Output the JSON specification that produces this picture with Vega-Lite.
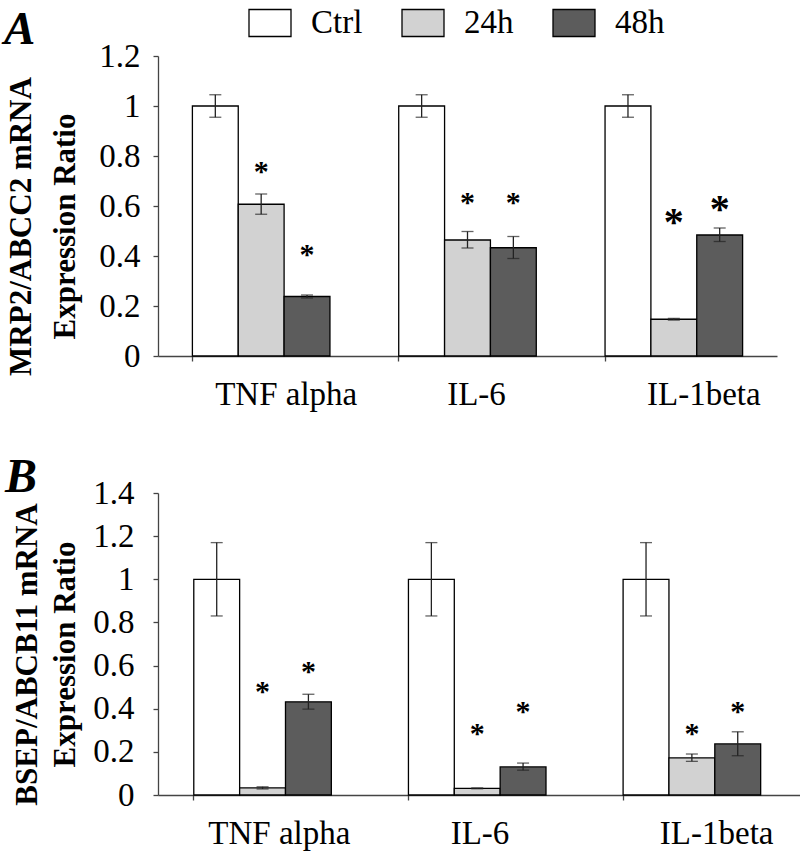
{
  "$schema": "https://vega.github.io/schema/vega-lite/v6.json",
  "padding": {"left": 4, "top": 1, "right": 3, "bottom": 5},
  "background": "white",
  "config": {
    "font": "Liberation Serif",
    "view": {"stroke": null},
    "axis": {
      "labelFont": "Liberation Serif",
      "titleFont": "Liberation Serif",
      "labelColor": "#000000",
      "titleColor": "#000000",
      "domainColor": "#444444",
      "tickColor": "#444444",
      "domainWidth": 1.3,
      "tickWidth": 1.3,
      "tickSize": 5,
      "grid": false,
      "labelFontSize": 33,
      "titleFontSize": 31,
      "titleFontWeight": "bold"
    }
  },
  "datasets": {
    "expr": [
      {"panel": "A", "cytokine": "TNF alpha", "group": "Ctrl", "value": 1.0, "lo": 0.955, "hi": 1.045, "star": null},
      {"panel": "A", "cytokine": "TNF alpha", "group": "24h", "value": 0.607, "lo": 0.567, "hi": 0.648, "star": 0.76},
      {"panel": "A", "cytokine": "TNF alpha", "group": "48h", "value": 0.238, "lo": 0.232, "hi": 0.244, "star": 0.43},
      {"panel": "A", "cytokine": "IL-6", "group": "Ctrl", "value": 1.0, "lo": 0.955, "hi": 1.045, "star": null},
      {"panel": "A", "cytokine": "IL-6", "group": "24h", "value": 0.464, "lo": 0.432, "hi": 0.498, "star": 0.635},
      {"panel": "A", "cytokine": "IL-6", "group": "48h", "value": 0.433, "lo": 0.39, "hi": 0.478, "star": 0.635},
      {"panel": "A", "cytokine": "IL-1beta", "group": "Ctrl", "value": 1.0, "lo": 0.955, "hi": 1.045, "star": null},
      {"panel": "A", "cytokine": "IL-1beta", "group": "24h", "value": 0.147, "lo": 0.144, "hi": 0.15, "star": 0.565},
      {"panel": "A", "cytokine": "IL-1beta", "group": "48h", "value": 0.484, "lo": 0.458, "hi": 0.512, "star": 0.615},
      {"panel": "B", "cytokine": "TNF alpha", "group": "Ctrl", "value": 1.0, "lo": 0.83, "hi": 1.17, "star": null},
      {"panel": "B", "cytokine": "TNF alpha", "group": "24h", "value": 0.033, "lo": 0.028, "hi": 0.038, "star": 0.505},
      {"panel": "B", "cytokine": "TNF alpha", "group": "48h", "value": 0.432, "lo": 0.398, "hi": 0.467, "star": 0.6},
      {"panel": "B", "cytokine": "IL-6", "group": "Ctrl", "value": 1.0, "lo": 0.83, "hi": 1.17, "star": null},
      {"panel": "B", "cytokine": "IL-6", "group": "24h", "value": 0.031, "lo": 0.029, "hi": 0.033, "star": 0.31},
      {"panel": "B", "cytokine": "IL-6", "group": "48h", "value": 0.13, "lo": 0.115, "hi": 0.148, "star": 0.414},
      {"panel": "B", "cytokine": "IL-1beta", "group": "Ctrl", "value": 1.0, "lo": 0.83, "hi": 1.17, "star": null},
      {"panel": "B", "cytokine": "IL-1beta", "group": "24h", "value": 0.172, "lo": 0.156, "hi": 0.19, "star": 0.31},
      {"panel": "B", "cytokine": "IL-1beta", "group": "48h", "value": 0.237, "lo": 0.182, "hi": 0.293, "star": 0.414}
    ]
  },
  "columns": 1,
  "align": "none",
  "concat": [
    {
      "width": 619,
      "height": 300,
      "title": {"text": "A", "anchor": "start", "frame": "group", "dx": -154, "offset": -14, "font": "Liberation Serif", "fontSize": 47, "fontStyle": "italic", "fontWeight": "bold", "color": "#000000"},
      "data": {"name": "expr"},
      "transform": [{"filter": "datum.panel === 'A'"}],
      "encoding": {
        "x": {
          "field": "cytokine", "type": "nominal", "sort": ["TNF alpha", "IL-6", "IL-1beta"],
          "scale": {"paddingInner": 0.3333, "paddingOuter": 0.1667},
          "axis": {"title": null, "labelAngle": 0, "bandPosition": 0, "labelPadding": 17,
            "labelOffset": {"condition": [{"test": "datum.value === 'TNF alpha'", "value": 25}, {"test": "datum.value === 'IL-6'", "value": 9}], "value": 30}}
        },
        "xOffset": {"field": "group", "type": "nominal", "sort": ["Ctrl", "24h", "48h"], "scale": {"paddingInner": 0}}
      },
      "layer": [
        {
          "mark": {"type": "bar", "stroke": "#000000", "strokeWidth": 1.3},
          "encoding": {
            "y": {"field": "value", "type": "quantitative", "scale": {"domain": [0, 1.2]},
              "axis": {"values": [0, 0.2, 0.4, 0.6, 0.8, 1, 1.2], "format": "~g", "labelPadding": 13, "titlePadding": 17, "titleLineHeight": 44, "titleY": 170,
                "title": ["MRP2/ABCC2 mRNA", "Expression Ratio"]}},
            "fill": {"field": "group", "type": "nominal",
              "scale": {"domain": ["Ctrl", "24h", "48h"], "range": ["#ffffff", "#d2d2d2", "#5c5c5c"]},
              "legend": {"orient": "none", "legendX": 90, "legendY": -55, "direction": "horizontal", "title": null,
                "symbolType": "M-1,-0.643H1V0.643H-1Z", "symbolSize": 1764, "symbolStrokeColor": "#000000", "symbolStrokeWidth": 1.3,
                "labelFont": "Liberation Serif", "labelFontSize": 33, "labelColor": "#000000", "labelOffset": 19, "columnPadding": 36}}
          }
        },
        {
          "mark": {"type": "rule", "color": "#222222", "strokeWidth": 1.3},
          "encoding": {"y": {"field": "lo", "type": "quantitative"}, "y2": {"field": "hi"}}
        },
        {
          "mark": {"type": "tick", "color": "#222222", "size": 12, "thickness": 1.3},
          "encoding": {"y": {"field": "lo", "type": "quantitative"}}
        },
        {
          "mark": {"type": "tick", "color": "#222222", "size": 12, "thickness": 1.3},
          "encoding": {"y": {"field": "hi", "type": "quantitative"}}
        },
        {
          "transform": [{"filter": "datum.star != null && datum.cytokine !== 'IL-1beta'"}],
          "mark": {"type": "text", "text": "*", "fontSize": 30, "fontWeight": "bold", "baseline": "middle", "dy": 6, "color": "#000000"},
          "encoding": {"y": {"field": "star", "type": "quantitative"}}
        },
        {
          "transform": [{"filter": "datum.star != null && datum.cytokine === 'IL-1beta'"}],
          "mark": {"type": "text", "text": "*", "fontSize": 40, "fontWeight": "bold", "baseline": "middle", "dy": 8, "color": "#000000"},
          "encoding": {"y": {"field": "star", "type": "quantitative"}}
        }
      ]
    },
    {
      "width": 644,
      "height": 302,
      "title": {"text": "B", "anchor": "start", "frame": "group", "dx": -153, "offset": -25, "font": "Liberation Serif", "fontSize": 48, "fontStyle": "italic", "fontWeight": "bold", "color": "#000000"},
      "data": {"name": "expr"},
      "transform": [{"filter": "datum.panel === 'B'"}],
      "encoding": {
        "x": {
          "field": "cytokine", "type": "nominal", "sort": ["TNF alpha", "IL-6", "IL-1beta"],
          "scale": {"paddingInner": 0.3333, "paddingOuter": 0.1667},
          "axis": {"title": null, "labelAngle": 0, "bandPosition": 0, "labelPadding": 17,
            "labelOffset": {"condition": [{"test": "datum.value === 'TNF alpha'", "value": 14}, {"test": "datum.value === 'IL-6'", "value": 0}], "value": 22}}
        },
        "xOffset": {"field": "group", "type": "nominal", "sort": ["Ctrl", "24h", "48h"], "scale": {"paddingInner": 0}}
      },
      "layer": [
        {
          "mark": {"type": "bar", "stroke": "#000000", "strokeWidth": 1.3},
          "encoding": {
            "y": {"field": "value", "type": "quantitative", "scale": {"domain": [0, 1.4]},
              "axis": {"values": [0, 0.2, 0.4, 0.6, 0.8, 1, 1.2, 1.4], "format": "~g", "labelPadding": 19, "titlePadding": 11, "titleLineHeight": 38, "titleY": 161,
                "title": ["BSEP/ABCB11 mRNA", "Expression Ratio"]}},
            "fill": {"field": "group", "type": "nominal"}
          }
        },
        {
          "mark": {"type": "rule", "color": "#222222", "strokeWidth": 1.3},
          "encoding": {"y": {"field": "lo", "type": "quantitative"}, "y2": {"field": "hi"}}
        },
        {
          "mark": {"type": "tick", "color": "#222222", "size": 12, "thickness": 1.3},
          "encoding": {"y": {"field": "lo", "type": "quantitative"}}
        },
        {
          "mark": {"type": "tick", "color": "#222222", "size": 12, "thickness": 1.3},
          "encoding": {"y": {"field": "hi", "type": "quantitative"}}
        },
        {
          "transform": [{"filter": "datum.star != null"}],
          "mark": {"type": "text", "text": "*", "fontSize": 30, "fontWeight": "bold", "baseline": "middle", "dy": 6, "color": "#000000"},
          "encoding": {"y": {"field": "star", "type": "quantitative"}}
        }
      ]
    }
  ],
  "spacing": 43,
  "resolve": {"scale": {"x": "independent", "y": "independent", "fill": "shared"}}
}
